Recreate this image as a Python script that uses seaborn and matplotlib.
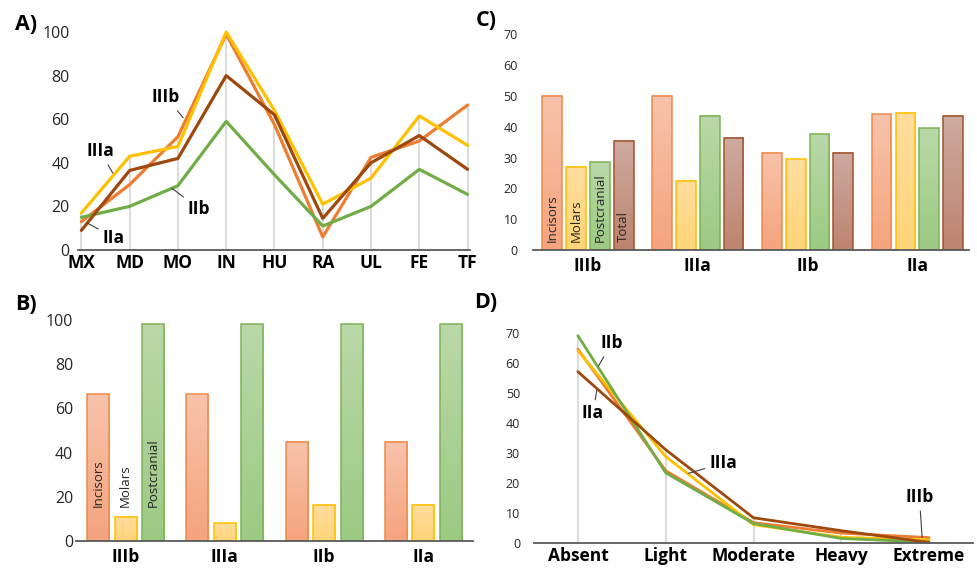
import numpy as np
import pandas as pd
import matplotlib
matplotlib.use('Agg')
import matplotlib.pyplot as plt
import seaborn as sns
from matplotlib.colors import to_rgb

# gruppi e colori delle serie (A e D)
groups = ['IIIb', 'IIIa', 'IIb', 'IIa']
group_colors = ['#ED7D31', '#FFC000', '#70AD47', '#9E480E']

# A) frequenze per elemento scheletrico
bones = ['MX', 'MD', 'MO', 'IN', 'HU', 'RA', 'UL', 'FE', 'TF']
a_IIIb = [13, 30, 52, 99, 57.5, 6, 42.5, 50, 66.5]
a_IIIa = [17, 43, 47.5, 100, 64, 21, 33, 61.5, 48]
a_IIb = [15, 20, 29.5, 59, 34.5, 11, 20, 37, 25.5]
a_IIa = [9, 36.5, 42, 80, 62, 14.5, 40, 52.5, 37]

# B) barre per parte
parts_b = ['Incisors', 'Molars', 'Postcranial']
b_incisors = [66.5, 66.5, 45, 45]
b_molars = [11, 8, 16.5, 16.5]
b_postcranial = [98, 98, 98, 98]

# C) barre per parte + totale
parts_c = ['Incisors', 'Molars', 'Postcranial', 'Total']
c_incisors = [50, 50, 31.5, 44]
c_molars = [27, 22.5, 29.5, 44.5]
c_postcranial = [28.5, 43.5, 37.5, 39.5]
c_total = [35.5, 36.5, 31.5, 43.5]

# D) gradi
grades = ['Absent', 'Light', 'Moderate', 'Heavy', 'Extreme']
d_IIIb = [64.5, 24, 6.7, 3.2, 1.7]
d_IIIa = [64, 28.7, 6, 1.8, 0.9]
d_IIb = [69, 23.3, 6.4, 1.4, 0.2]
d_IIa = [57, 31, 8.3, 4, 0.1]

# colori barre: (alto, basso, bordo)
part_style = {
    'Incisors': ('#F8C3AB', '#F4A47E', '#EF8A4C'),
    'Molars': ('#FFDD9E', '#FFD579', '#FFC000'),
    'Postcranial': ('#BAD8A8', '#9CCA83', '#7DB356'),
    'Total': ('#CEAAA0', '#BD846F', '#A0532B'),
}

sns.set_theme(style='white')
plt.rcParams['font.family'] = ['Open Sans', 'DejaVu Sans']
plt.rcParams['text.color'] = '#1a1a1a'

fig = plt.figure(figsize=(9.77, 5.68), dpi=100)
W, H = 977, 568


def add_axes(left, right, top, bottom):
    return fig.add_axes([left / W, 1 - bottom / H, (right - left) / W, (bottom - top) / H])


def style_axis(ax, ysize, xsize, ypad, xpad):
    sns.despine(ax=ax, left=True)
    ax.spines['bottom'].set_color('#595959')
    ax.spines['bottom'].set_linewidth(1.3)
    ax.tick_params(axis='both', length=0)
    ax.tick_params(axis='y', labelsize=ysize, pad=ypad, labelcolor='#262626')
    ax.tick_params(axis='x', labelsize=xsize, pad=xpad, labelcolor='#000000')
    for lab in ax.get_xticklabels():
        lab.set_fontweight('bold')
    ax.set_xlabel('')
    ax.set_ylabel('')


def gradient_bars(ax, parts):
    for cont, part in zip(ax.containers, parts):
        top, bot, edge = part_style[part]
        grad = np.linspace(np.array(to_rgb(bot)), np.array(to_rgb(top)), 64).reshape(64, 1, 3)
        for bar in cont:
            x, w, h = bar.get_x(), bar.get_width(), bar.get_height()
            ax.imshow(grad, extent=[x, x + w, 0, h], origin='lower', aspect='auto',
                      interpolation='bilinear', zorder=1)
            bar.set_facecolor('none')
            bar.set_edgecolor(edge)
            bar.set_linewidth(1.1)
            bar.set_zorder(2)


def line_panel(ax, cats, series, ylim, yticks, ysize, ypad, lw):
    df = pd.DataFrame({
        'pos': list(range(len(cats))) * len(groups),
        'group': np.repeat(groups, len(cats)),
        'value': np.concatenate(series),
    })
    tops = df.groupby('pos')['value'].max()
    ax.vlines(tops.index, 0, tops.values, color='#D9D9D9', lw=1.3, zorder=0)
    sns.lineplot(data=df, x='pos', y='value', hue='group', hue_order=groups,
                 palette=dict(zip(groups, group_colors)), lw=lw, sort=False,
                 legend=False, ax=ax)
    for ln in ax.lines:
        ln.set_clip_on(False)
    ax.set_ylim(*ylim)
    ax.set_yticks(yticks)
    ax.set_xticks(range(len(cats)))
    ax.set_xticklabels(cats)
    style_axis(ax, ysize, 12.5, ypad, 3)


def annotate(ax, label, text_xy, point_xy):
    ax.annotate(label, xy=point_xy, xytext=text_xy, ha='center', va='center',
                fontsize=12.5, fontweight='bold', color='#000000',
                arrowprops=dict(arrowstyle='-', color='#404040', lw=0.8, shrinkA=1, shrinkB=0))


# ---------- A ----------
axA = add_axes(78, 470, 32, 250)
line_panel(axA, bones, [a_IIIb, a_IIIa, a_IIb, a_IIa], (0, 100), range(0, 101, 20), 11.5, 6, 2.3)
axA.set_xlim(-0.07, 8.05)
annotate(axA, 'IIIb', (1.75, 70), (2.11, 60.7))
annotate(axA, 'IIIa', (0.39, 45.2), (0.65, 35.3))
annotate(axA, 'IIb', (2.44, 18.9), (1.87, 28.4))
annotate(axA, 'IIa', (0.67, 5.7), (0.13, 12.3))

# ---------- D ----------
axD = add_axes(534, 973, 332.7, 542.7)
line_panel(axD, grades, [d_IIIb, d_IIIa, d_IIb, d_IIa], (0, 70), range(0, 71, 10), 9, 10, 2.0)
axD.set_xlim(-0.5, 4.5)
annotate(axD, 'IIb', (0.386, 66.5), (0.234, 58.9))
annotate(axD, 'IIa', (0.17, 43.1), (0.216, 50.9))
annotate(axD, 'IIIa', (1.655, 26.5), (1.257, 23.1))
annotate(axD, 'IIIb', (3.89, 15.1), (3.92, 1.8))

# ---------- B ----------
axB = add_axes(76, 473, 320, 541)
df_b = pd.DataFrame({
    'group': groups * len(parts_b),
    'part': np.repeat(parts_b, len(groups)),
    'value': b_incisors + b_molars + b_postcranial,
})
sns.barplot(data=df_b, x='group', y='value', hue='part', order=groups, hue_order=parts_b,
            width=0.833, gap=0.2, errorbar=None, legend=False, ax=axB)
gradient_bars(axB, parts_b)
axB.set_xlim(-0.5, 3.5)
axB.set_ylim(0, 100)
axB.set_yticks(range(0, 101, 20))
style_axis(axB, 11.5, 12.5, 2, 5)
for cont, part in zip(axB.containers, parts_b):
    bar = cont[0]
    axB.text(bar.get_x() + bar.get_width() / 2, 15.4, part, rotation=90, ha='center',
             va='bottom', fontsize=9.5, color='#262626', zorder=3)

# ---------- C ----------
axC = add_axes(533, 969, 34.3, 250)
df_c = pd.DataFrame({
    'group': groups * len(parts_c),
    'part': np.repeat(parts_c, len(groups)),
    'value': c_incisors + c_molars + c_postcranial + c_total,
})
sns.barplot(data=df_c, x='group', y='value', hue='part', order=groups, hue_order=parts_c,
            width=0.87, gap=0.17, errorbar=None, legend=False, ax=axC)
gradient_bars(axC, parts_c)
axC.set_xlim(-0.5, 3.47)
axC.set_ylim(0, 70)
axC.set_yticks(range(0, 71, 10))
style_axis(axC, 9, 12.5, 11, 5)
for cont, part in zip(axC.containers, parts_c):
    bar = cont[0]
    axC.text(bar.get_x() + bar.get_width() / 2, 2.6, part, rotation=90, ha='center',
             va='bottom', fontsize=9.5, color='#262626', zorder=3)

# etichette dei pannelli
for lab, x, y in [('A)', 26, 24), ('B)', 26, 305), ('C)', 486, 20), ('D)', 486, 302)]:
    fig.text(x / W, 1 - y / H, lab, ha='center', va='center', fontsize=15.5,
             fontweight='bold', color='#000000')

fig.savefig('out.png', dpi=100)
